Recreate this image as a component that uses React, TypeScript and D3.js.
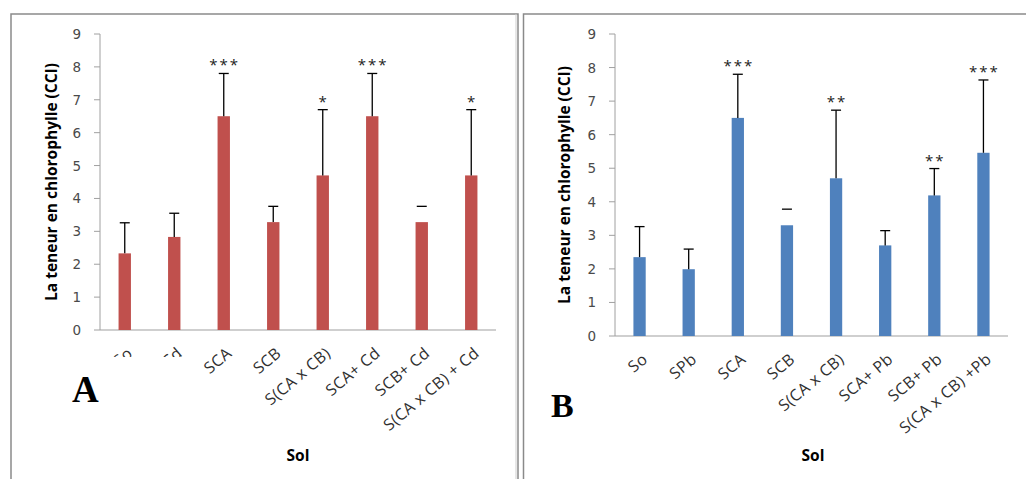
import React from "react";
import * as d3 from "d3";

// ---------- Data ----------
const categoriesA = ["So", "Cd", "SCA", "SCB", "S(CA x CB)", "SCA+ Cd", "SCB+ Cd", "S(CA x CB) + Cd"];
const meansA = [2.33, 2.83, 6.5, 3.28, 4.7, 6.5, 3.28, 4.7];
const errTopA = [3.26, 3.55, 7.8, 3.76, 6.7, 7.8, 3.76, 6.7];
const capOnlyA = [false, false, false, false, false, false, true, false];
const signifA = ["", "", "***", "", "*", "***", "", "*"];

const categoriesB = ["So", "SPb", "SCA", "SCB", "S(CA x CB)", "SCA+ Pb", "SCB+ Pb", "S(CA x CB) +Pb"];
const meansB = [2.35, 1.99, 6.5, 3.3, 4.7, 2.7, 4.19, 5.46];
const errTopB = [3.26, 2.59, 7.8, 3.78, 6.73, 3.14, 4.99, 7.63];
const capOnlyB = [false, false, false, true, false, false, false, false];
const signifB = ["", "", "***", "", "**", "", "**", "***"];

const yTicks = [0, 1, 2, 3, 4, 5, 6, 7, 8, 9];
const yTitle = "La teneur en chlorophylle (CCI)";
const xTitle = "Sol";

const FONT = "'Open Sans', 'DejaVu Sans', sans-serif";
const TICKFONT = "'DejaVu Sans', Verdana, sans-serif";

type PanelProps = {
  cats: string[];
  means: number[];
  errTop: number[];
  capOnly: boolean[];
  signif: string[];
  color: string;
  x0: number;
  x1: number;
  yBottom: number;
  yTop: number;
  titleX: number;
  solX: number;
  letter: string;
  letterX: number;
  letterY: number;
  letterSize: number;
  mask?: { x: number; y: number; w: number; h: number };
};

function Panel(p: PanelProps) {
  const x = d3.scaleBand<string>().domain(p.cats).range([p.x0, p.x1]).paddingInner(0.75).paddingOuter(0.375);
  const y = d3.scaleLinear().domain([0, 9]).range([p.yBottom, p.yTop]);
  const bw = x.bandwidth();
  const axisColor = "#a0a0a0";
  const midY = (y(0) + y(9)) / 2;
  return (
    <g>
      {/* axes */}
      <line x1={p.x0} x2={p.x0} y1={y(9)} y2={y(0)} stroke={axisColor} strokeWidth={1} />
      <line x1={p.x0} x2={p.x1} y1={y(0)} y2={y(0)} stroke={axisColor} strokeWidth={1.2} />
      {yTicks.map((t) => (
        <g key={t}>
          <line x1={p.x0 - 6} x2={p.x0} y1={y(t)} y2={y(t)} stroke={axisColor} strokeWidth={1} />
          <text x={p.x0 - 19} y={y(t) + 5} textAnchor="end" fontFamily={TICKFONT} fontSize={13.5} fill="#4a4a4a">
            {t}
          </text>
        </g>
      ))}
      {/* bars */}
      {p.cats.map((c, i) => {
        const cx = (x(c) as number) + bw / 2;
        return (
          <g key={c}>
            <rect x={x(c)} y={y(p.means[i])} width={bw} height={y(0) - y(p.means[i])} fill={p.color} />
            {!p.capOnly[i] && (
              <line x1={cx} x2={cx} y1={y(p.means[i])} y2={y(p.errTop[i])} stroke="#000" strokeWidth={1.3} />
            )}
            <line x1={cx - 5} x2={cx + 5} y1={y(p.errTop[i])} y2={y(p.errTop[i])} stroke="#000" strokeWidth={1.3} />
            {p.signif[i] && (
              <text x={cx + 1} y={y(p.errTop[i]) - 3} textAnchor="middle" fontFamily={FONT} fontSize={15} letterSpacing={2} fill="#222">
                {p.signif[i]}
              </text>
            )}
          </g>
        );
      })}
      {/* x labels */}
      {p.cats.map((c) => {
        const cx = (x(c) as number) + bw / 2;
        const ax = cx + 9;
        const ay = y(0) + 25;
        return (
          <text key={"l" + c} x={ax} y={ay} transform={`rotate(-40 ${ax} ${ay})`} textAnchor="end" fontFamily={FONT} fontSize={16} letterSpacing={0.4} fill="#303030">
            {c}
          </text>
        );
      })}
      {p.mask && <rect x={p.mask.x} y={p.mask.y} width={p.mask.w} height={p.mask.h} fill="#fff" />}
      {/* titles */}
      <text
        x={p.titleX}
        y={midY}
        transform={`rotate(-90 ${p.titleX} ${midY})`}
        textAnchor="middle"
        fontFamily={FONT}
        fontWeight="bold"
        fontSize={15.5}
        fill="#000"
        dy={5}
      >
        {yTitle}
      </text>
      <text x={p.solX} y={461} textAnchor="middle" fontFamily={FONT} fontWeight="bold" fontSize={15.5} fill="#000">
        {xTitle}
      </text>
      <text x={p.letterX} y={p.letterY} fontFamily="'Liberation Serif', 'Times New Roman', serif" fontWeight="bold" fontSize={p.letterSize} fill="#000">
        {p.letter}
      </text>
    </g>
  );
}

export default function App() {
  return (
    <svg width={1026} height={479} style={{ position: "absolute", left: 0, top: 0, background: "#fff" }}>
      <rect x={0} y={0} width={1026} height={479} fill="#fff" />
      {/* panel frames */}
      <rect x={11} y={14} width={507} height={480} fill="none" stroke="#8a8a8a" strokeWidth={1.5} />
      <line x1={516} x2={516} y1={14} y2={479} stroke="#cfcfcf" strokeWidth={1} />
      <rect x={523.5} y={14} width={520} height={480} fill="none" stroke="#8a8a8a" strokeWidth={1.5} />
      <Panel
        cats={categoriesA}
        means={meansA}
        errTop={errTopA}
        capOnly={capOnlyA}
        signif={signifA}
        color="#C0504D"
        x0={100}
        x1={496}
        yBottom={330}
        yTop={34}
        titleX={52}
        solX={298}
        letter="A"
        letterX={72}
        letterY={402}
        letterSize={37}
        mask={{ x: 60, y: 357, w: 133, h: 58 }}
      />
      <Panel
        cats={categoriesB}
        means={meansB}
        errTop={errTopB}
        capOnly={capOnlyB}
        signif={signifB}
        color="#4F81BD"
        x0={615}
        x1={1008}
        yBottom={336}
        yTop={34}
        titleX={565}
        solX={813}
        letter="B"
        letterX={551}
        letterY={417}
        letterSize={34}
      />
    </svg>
  );
}
